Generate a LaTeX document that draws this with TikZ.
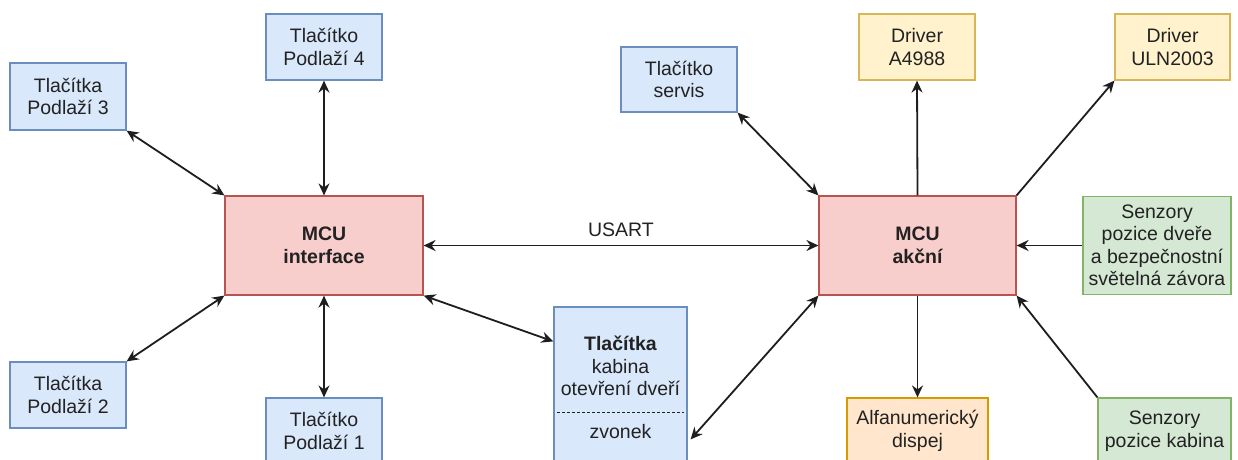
\documentclass[tikz,border=0pt]{standalone}
\usepackage{fontspec}
\setmainfont{Liberation Sans}
\usetikzlibrary{arrows.meta}

\definecolor{blueF}{HTML}{DAE8FC}
\definecolor{blueD}{HTML}{6C8EBF}
\definecolor{redF}{HTML}{F8CECC}
\definecolor{redD}{HTML}{B85450}
\definecolor{yelF}{HTML}{FFF2CC}
\definecolor{yelD}{HTML}{D6B656}
\definecolor{grnF}{HTML}{D5E8D4}
\definecolor{grnD}{HTML}{82B366}
\definecolor{orgF}{HTML}{FFE6CC}
\definecolor{orgD}{HTML}{D79B00}
\definecolor{txt}{HTML}{222222}
\definecolor{wire}{HTML}{1E1E1E}

\tikzset{
  base/.style={rectangle, inner sep=0pt, align=center, line width=1.2pt,
    text=txt, font=\fontsize{19.5}{22.5}\selectfont},
  bluebox/.style={base, fill=blueF, draw=blueD},
  redbox/.style={base, fill=redF, draw=redD, font=\fontsize{19.5}{22.5}\selectfont\bfseries},
  yelbox/.style={base, fill=yelF, draw=yelD},
  grnbox/.style={base, fill=grnF, draw=grnD},
  orgbox/.style={base, fill=orgF, draw=orgD},
  sz/.style 2 args={minimum width=#1pt, minimum height=#2pt},
  link/.style={line width=1.8pt, draw=wire},
  >={Stealth[length=12pt,width=11pt,inset=4pt]},
  lbl/.style={inner sep=0pt, text=txt, font=\fontsize{19.5}{22.5}\selectfont, align=center}
}

\begin{document}
\begin{tikzpicture}[x=1pt,y=-1pt]
\clip (0,0) rectangle (1238,459);
\fill[white] (0,0) rectangle (1238,459);

% interface controller and its call buttons
\node[redbox, sz={198}{99}] (mi) at (324,245.5) {MCU\\interface};
\node[bluebox, sz={116}{66}] (p4) at (324,47) {Tlačítko\\Podlaží 4};
\node[bluebox, sz={116}{67}] (p3) at (68,96.5) {Tlačítka\\Podlaží 3};
\node[bluebox, sz={116}{66}] (p2) at (68,395) {Tlačítka\\Podlaží 2};
\node[bluebox, sz={116}{66}] (p1) at (324,431) {Tlačítko\\Podlaží 1};

% cabin buttons with the bell section
\node[bluebox, sz={133}{170}] (kab) at (620.5,392) {};
\node[lbl] (kabt) at (620.5,366) {\textbf{Tlačítka}\\kabina\\otevření dveří};
\draw[txt, line width=1pt, dash pattern=on 3pt off 2pt] (557,412) -- (684,412);
\node[lbl] (zv) at (620.5,432) {zvonek};

% action controller and its peripherals
\node[redbox, sz={197}{99}] (ma) at (917.5,245.5) {MCU\\akční};
\node[bluebox, sz={116}{65}] (serv) at (679,79.5) {Tlačítko\\servis};
\node[yelbox, sz={116}{66}] (a49) at (917,47) {Driver\\A4988};
\node[yelbox, sz={115}{66}] (uln) at (1172.5,47) {Driver\\ULN2003};
\node[grnbox, sz={148}{98}] (sd) at (1157,245.5) {Senzory\\pozice dveře\\a bezpečnostní\\světelná závora};
\node[grnbox, sz={133}{66}] (sk) at (1164.5,431) {Senzory\\pozice kabina};
\node[orgbox, sz={141}{66}] (alf) at (917.5,431) {Alfanumerický\\dispej};

% connections of the interface controller
\draw[link, <->] (p3.south east) -- (mi.north west);
\draw[link, <->] (p4.south) -- (mi.north);
\draw[link, <->] (p2.north east) -- (mi.south west);
\draw[link, <->] (p1.north) -- (mi.south);
\draw[link, <->] (mi.south east) -- ([yshift=-35pt]kab.north west);

% serial link between controllers
\draw[link, <->] (mi.east) -- node[lbl, above=8pt] (usart) {USART} (ma.west);

% connections of the action controller
\draw[link, <->] (serv.south east) -- (ma.north west);
\draw[link, <->] (ma.south west) -- ([yshift=-133pt, xshift=3pt]kab.north east);
\draw[link, ->] (ma.north) -- (a49.south);
\draw[link, ->] (ma.north east) -- (uln.south west);
\draw[link, ->] (sd.west) -- (ma.east);
\draw[link, ->] (ma.south) -- (alf.north);
\draw[link, ->] (sk.north west) -- (ma.south east);
\end{tikzpicture}
\end{document}
